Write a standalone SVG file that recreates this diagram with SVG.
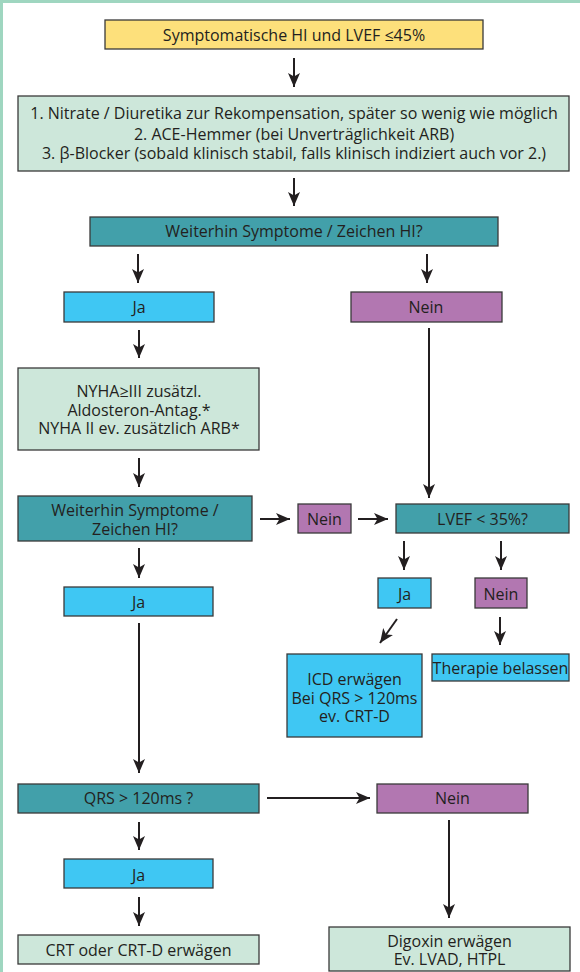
<svg xmlns="http://www.w3.org/2000/svg" width="580" height="972" viewBox="0 0 580 972">
<style>
  .box{stroke:#3a3a3a;stroke-width:1.3}
  .y{fill:#fde07b}
  .g{fill:#cde7da}
  .t{fill:#42a0aa}
  .c{fill:#3fc7f3}
  .p{fill:#b277b1}
  text{font-family:"Open Sans","Noto Sans","Liberation Sans",sans-serif;font-size:16px;fill:#231f20;text-anchor:middle}
  .ln{stroke:#231f20;stroke-width:2;fill:none}
</style>
<defs>
  <marker id="ah" markerUnits="userSpaceOnUse" markerWidth="15" markerHeight="15" refX="14" refY="7.5" orient="auto">
    <path d="M0,1.5 L14,7.5 L0,13.5 L3.5,7.5 Z" fill="#231f20"/>
  </marker>
</defs>
<rect x="0" y="0" width="580" height="972" fill="#ffffff"/>
<rect x="0" y="0" width="580" height="3" fill="#9fd6c0"/>
<rect x="0" y="0" width="3" height="972" fill="#9fd6c0"/>

<g id="n1"><rect class="box y" x="105" y="20" width="378" height="29"/><text x="294" y="41">Symptomatische HI und LVEF ≤45%</text></g>
<g id="n2"><rect class="box g" x="18" y="96" width="551" height="75"/>
  <text x="294" y="118.5">1. Nitrate / Diuretika zur Rekompensation, später so wenig wie möglich</text>
  <text x="294" y="139.5">2. ACE-Hemmer (bei Unverträglichkeit ARB)</text>
  <text x="294" y="158.5">3. β-Blocker (sobald klinisch stabil, falls klinisch indiziert auch vor 2.)</text></g>
<g id="n3"><rect class="box t" x="90" y="217" width="408" height="29"/><text x="294" y="237">Weiterhin Symptome / Zeichen HI?</text></g>
<g id="n4"><rect class="box c" x="64" y="292" width="150" height="30"/><text x="139" y="313">Ja</text></g>
<g id="n5"><rect class="box p" x="351" y="292" width="151" height="30"/><text x="426" y="313">Nein</text></g>
<g id="n6"><rect class="box g" x="18" y="368" width="241" height="82"/>
  <text x="139" y="397">NYHA≥III zusätzl.</text>
  <text x="139" y="415.5">Aldosteron-Antag.*</text>
  <text x="139" y="434">NYHA II ev. zusätzlich ARB*</text></g>
<g id="n7"><rect class="box t" x="18" y="496" width="234" height="45"/>
  <text x="135" y="516">Weiterhin Symptome /</text>
  <text x="135" y="535">Zeichen HI?</text></g>
<g id="n8"><rect class="box p" x="298" y="504" width="53" height="29"/><text x="324.5" y="525">Nein</text></g>
<g id="n9"><rect class="box t" x="396" y="504" width="173" height="29"/><text x="482.5" y="525">LVEF &lt; 35%?</text></g>
<g id="n10"><rect class="box c" x="378" y="578" width="53" height="30"/><text x="404.5" y="600">Ja</text></g>
<g id="n11"><rect class="box p" x="475" y="578" width="52" height="30"/><text x="501" y="600">Nein</text></g>
<g id="n12"><rect class="box c" x="64" y="587" width="149" height="29"/><text x="138.5" y="607.5">Ja</text></g>
<g id="n13"><rect class="box c" x="287" y="654" width="135" height="83"/>
  <text x="354.5" y="685">ICD erwägen</text>
  <text x="354.5" y="703.5">Bei QRS &gt; 120ms</text>
  <text x="354.5" y="722">ev. CRT-D</text></g>
<g id="n14"><rect class="box c" x="432" y="654" width="137" height="27"/><text x="500.5" y="674">Therapie belassen</text></g>
<g id="n15"><rect class="box t" x="18" y="784" width="241" height="29"/><text x="138.5" y="804">QRS &gt; 120ms ?</text></g>
<g id="n16"><rect class="box p" x="377" y="784" width="151" height="29"/><text x="452.5" y="804">Nein</text></g>
<g id="n17"><rect class="box c" x="64" y="859" width="149" height="29"/><text x="138.5" y="880.5">Ja</text></g>
<g id="n18"><rect class="box g" x="18" y="935" width="241" height="29"/><text x="138.5" y="956">CRT oder CRT-D erwägen</text></g>
<g id="n19"><rect class="box g" x="329" y="927" width="241" height="44"/>
  <text x="449.5" y="946.5">Digoxin erwägen</text>
  <text x="449.5" y="965">Ev. LVAD, HTPL</text></g>

<g id="connectors">
  <line class="ln" x1="294" y1="58" x2="294" y2="87" marker-end="url(#ah)"/>
  <line class="ln" x1="294" y1="178" x2="294" y2="206" marker-end="url(#ah)"/>
  <line class="ln" x1="138" y1="254" x2="138" y2="283" marker-end="url(#ah)"/>
  <line class="ln" x1="427" y1="254" x2="427" y2="283" marker-end="url(#ah)"/>
  <line class="ln" x1="139" y1="330" x2="139" y2="358" marker-end="url(#ah)"/>
  <line class="ln" x1="429" y1="328" x2="429" y2="498" marker-end="url(#ah)"/>
  <line class="ln" x1="139" y1="458" x2="139" y2="487" marker-end="url(#ah)"/>
  <line class="ln" x1="260" y1="519" x2="290" y2="519" marker-end="url(#ah)"/>
  <line class="ln" x1="358" y1="519" x2="388" y2="519" marker-end="url(#ah)"/>
  <line class="ln" x1="139" y1="548" x2="139" y2="578" marker-end="url(#ah)"/>
  <line class="ln" x1="404" y1="541" x2="404" y2="570" marker-end="url(#ah)"/>
  <line class="ln" x1="501" y1="541" x2="501" y2="570" marker-end="url(#ah)"/>
  <line class="ln" x1="397" y1="619" x2="380" y2="643" marker-end="url(#ah)"/>
  <line class="ln" x1="500" y1="617" x2="500" y2="645" marker-end="url(#ah)"/>
  <line class="ln" x1="139" y1="623" x2="139" y2="773" marker-end="url(#ah)"/>
  <line class="ln" x1="267" y1="798" x2="370" y2="798" marker-end="url(#ah)"/>
  <line class="ln" x1="139" y1="822" x2="139" y2="850" marker-end="url(#ah)"/>
  <line class="ln" x1="139" y1="897" x2="139" y2="926" marker-end="url(#ah)"/>
  <line class="ln" x1="449" y1="820" x2="449" y2="918" marker-end="url(#ah)"/>
</g>
</svg>
